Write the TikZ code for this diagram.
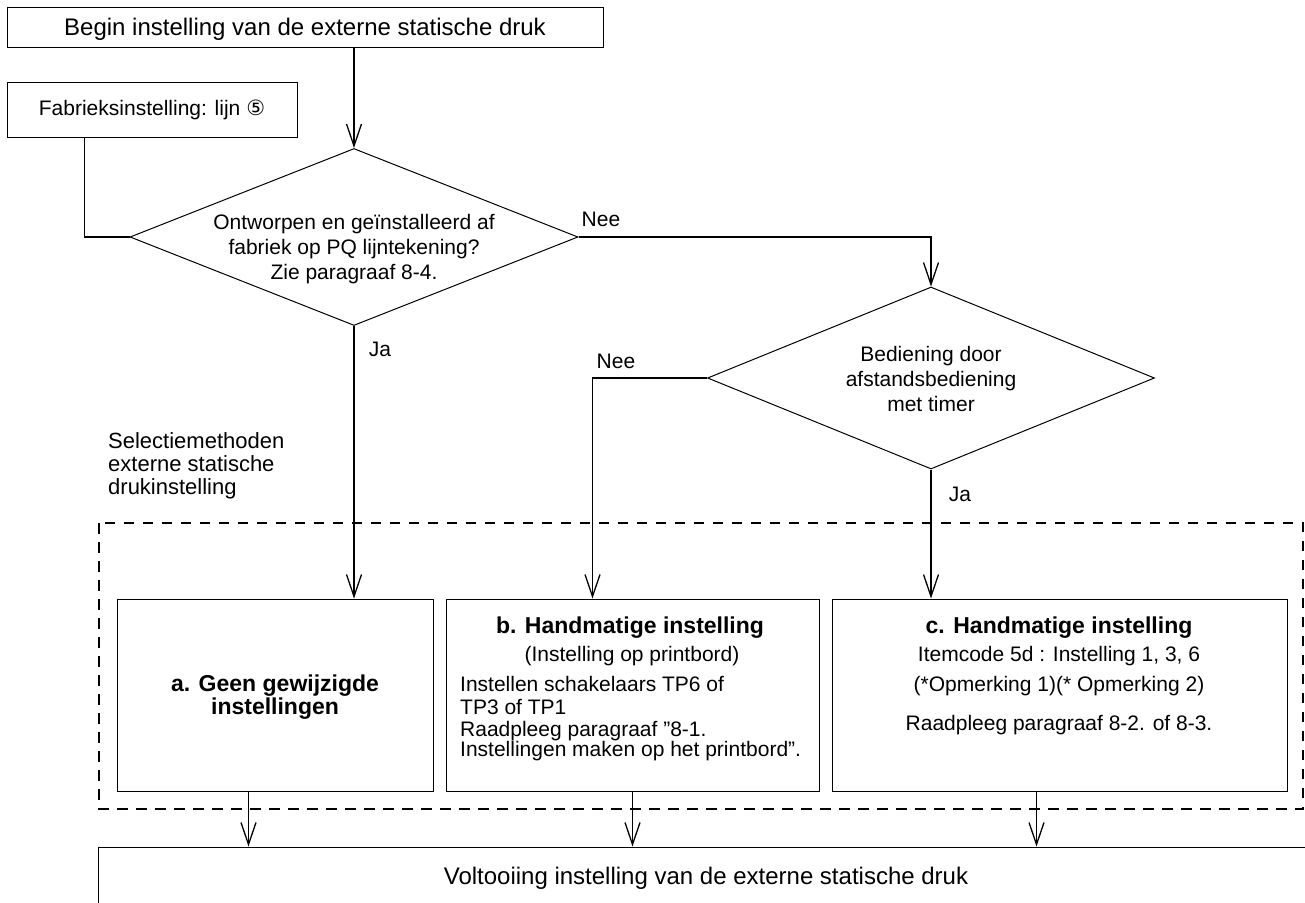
\documentclass[tikz,border=0pt]{standalone}
\usepackage{fontspec}
\setmainfont{Liberation Sans}
\newfontfamily\dejavu{DejaVu Sans}
\usetikzlibrary{shapes.geometric,arrows.meta}
\begin{document}
\begin{tikzpicture}[x=1pt,y=-1pt,
  txt/.style={font=\fontsize{21}{25}\selectfont, inner sep=0pt, anchor=base},
  txtl/.style={txt, anchor=base west},
  big/.style={font=\fontsize{24}{28}\selectfont, inner sep=0pt, anchor=base},
  ttl/.style={font=\fontsize{23}{27}\selectfont\bfseries, inner sep=0pt, anchor=base},
  sel/.style={font=\fontsize{22}{23}\selectfont, inner sep=0pt, anchor=base west},
  box/.style={draw, line width=1pt, rectangle, inner sep=0pt},
  dia/.style={draw, line width=1pt, diamond, inner sep=0pt},
  conn/.style={line width=1.3pt},
  arr/.style={conn, -{Straight Barb[length=22pt,width=15pt,line width=1.3pt]}},
  frame/.style={line width=2.2pt, dash pattern=on 10.5pt off 8.5pt}]
\useasboundingbox (0,0) rectangle (1305,902);

% top boxes
\node[box, minimum width=596pt, minimum height=40pt] (begin) at (305,27) {};
\node[big] (begint) at (305,35.5) {Begin instelling van de externe statische druk};
\node[box, minimum width=290pt, minimum height=55pt, font=\fontsize{21}{25}\selectfont] (fab) at (152,109.5) {Fabrieksinstelling: lijn {\dejavu ⑤}};

% diamonds
\node[dia, minimum width=448pt, minimum height=177pt] (d1) at (354,237) {};
\node[txt] (d1a) at (354,229) {Ontworpen en geïnstalleerd af};
\node[txt] (d1b) at (354,254) {fabriek op PQ lijntekening?};
\node[txt] (d1c) at (354,279) {Zie paragraaf 8-4.};

\node[dia, minimum width=447pt, minimum height=182pt] (d2) at (931,378) {};
\node[txt] (d2a) at (931,361) {Bediening door};
\node[txt] (d2b) at (931,386) {afstandsbediening};
\node[txt] (d2c) at (931,411) {met timer};

% labels
\node[txt] (nee1) at (601,226) {Nee};
\node[txt] (ja1) at (380,356) {Ja};
\node[txt] (nee2) at (616,368) {Nee};
\node[txt] (ja2) at (960,501) {Ja};

\node[sel] (s1) at (108,448) {Selectiemethoden};
\node[sel] (s2) at (108,471) {externe statische};
\node[sel] (s3) at (108,494) {drukinstelling};

% dashed frame
\draw[frame] (99,523) rectangle (1303,809);

% option boxes
\node[box, minimum width=316pt, minimum height=192pt] (boxA) at (275,695) {};
\node[ttl] (a1) at (275,691) {a. Geen gewijzigde};
\node[ttl] (a2) at (275,714) {instellingen};

\node[box, minimum width=373pt, minimum height=192pt] (boxB) at (632.5,695) {};
\node[ttl] (b1) at (630,633) {b. Handmatige instelling};
\node[txt] (b2) at (632,661) {(Instelling op printbord)};
\node[txtl] (b3) at (460,691) {Instellen schakelaars TP6 of};
\node[txtl] (b4) at (460,714) {TP3 of TP1};
\node[txtl] (b5) at (460,736) {Raadpleeg paragraaf "8-1.};
\node[txtl] (b6) at (460,756) {Instellingen maken op het printbord".};

\node[box, minimum width=455pt, minimum height=192pt] (boxC) at (1059.5,695) {};
\node[ttl] (c1) at (1059,633) {c. Handmatige instelling};
\node[txt] (c2) at (1059,661) {Itemcode 5d : Instelling 1, 3, 6};
\node[txt] (c3) at (1059,691) {(*Opmerking 1)(* Opmerking 2)};
\node[txt] (c4) at (1059,730) {Raadpleeg paragraaf 8-2. of 8-3.};

% final box
\node[box, minimum width=1222pt, minimum height=73pt] (final) at (709,883.5) {};
\node[big] (finalt) at (706,884) {Voltooiing instelling van de externe statische druk};

% connectors
\draw[arr] (begin.south -| d1.north) -- (d1.north);
\draw[conn] ([xshift=78pt]fab.south west) |- (d1.west);
\draw[arr] (d1.east) -| (d2.north);
\draw[arr] (d1.south) -- (d1.south |- boxA.north);
\draw[arr] (d2.west) -| ([xshift=147pt]boxB.north west);
\draw[arr] (d2.south) -- (d2.south |- boxC.north);

\coordinate (oa) at ([xshift=132pt]boxA.south west);
\coordinate (ob) at (boxB.south);
\coordinate (oc) at ([xshift=205pt]boxC.south west);
\draw[arr] (oa) -- (oa |- final.north);
\draw[arr] (ob) -- (ob |- final.north);
\draw[arr] (oc) -- (oc |- final.north);
\end{tikzpicture}
\end{document}
